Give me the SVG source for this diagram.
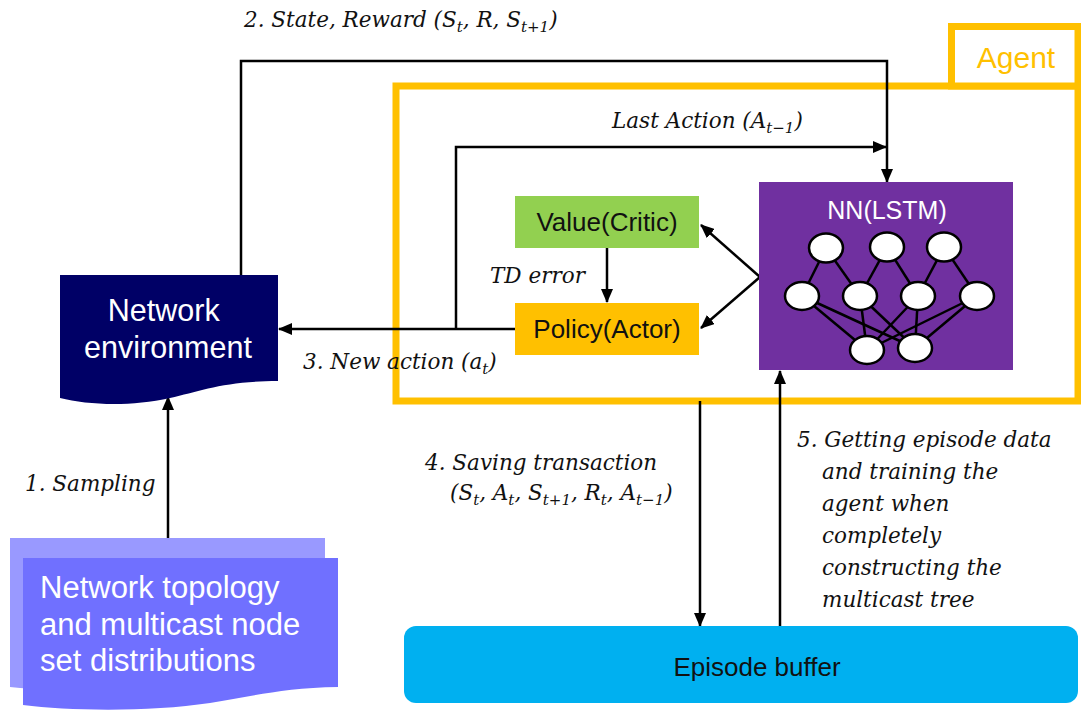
<svg xmlns="http://www.w3.org/2000/svg" width="1081" height="713" viewBox="0 0 1081 713">
  <style>
    .sans { font-family: "Liberation Sans", Arial, sans-serif; }
    .it { font-family: "DejaVu Serif", "Liberation Serif", serif; font-style: italic; font-size: 21.5px; fill: #111; }
    .sub { font-size: 15px; }
    .wire { fill: none; stroke: #000; stroke-width: 2.5; }
    .neuron { fill: #fff; stroke: #000; stroke-width: 2.5; }
    .syn { stroke: #000; stroke-width: 2.5; }
  </style>
  <defs>
    <marker id="arrow" viewBox="0 0 14 12" refX="13" refY="6" markerWidth="14" markerHeight="12" markerUnits="userSpaceOnUse" orient="auto">
      <path d="M0,0 L14,6 L0,12 Z" fill="#000"/>
    </marker>
  </defs>

  <rect width="1081" height="713" fill="#fff"/>

  <!-- Agent container with its tab -->
  <g id="agent">
    <rect x="396" y="86" width="682" height="315" fill="none" stroke="#FFC000" stroke-width="7"/>
    <rect x="951.5" y="26.5" width="126.5" height="59.5" fill="#fff" stroke="#FFC000" stroke-width="7"/>
    <text x="1016" y="68" class="sans" font-size="30" fill="#FFC000" text-anchor="middle">Agent</text>
  </g>

  <!-- Connectors -->
  <g id="connectors">
    <!-- 2. state / reward to NN -->
    <polyline class="wire" points="241,275 241,61 887,61 887,182" marker-end="url(#arrow)"/>
    <!-- 3. new action back to environment -->
    <line class="wire" x1="515" y1="329" x2="279" y2="329" marker-end="url(#arrow)"/>
    <!-- last action feedback to NN -->
    <polyline class="wire" points="456,329 456,147 886,147" marker-end="url(#arrow)"/>
    <!-- TD error -->
    <line class="wire" x1="607" y1="248" x2="607" y2="302" marker-end="url(#arrow)"/>
    <!-- NN to critic / actor -->
    <line class="wire" x1="760" y1="277" x2="701" y2="225" marker-end="url(#arrow)"/>
    <line class="wire" x1="760" y1="277" x2="701" y2="328" marker-end="url(#arrow)"/>
    <!-- 1. sampling -->
    <line class="wire" x1="168" y1="538" x2="168" y2="397" marker-end="url(#arrow)"/>
    <!-- 4. saving transaction -->
    <line class="wire" x1="700" y1="401" x2="700" y2="626" marker-end="url(#arrow)"/>
    <!-- 5. training from episode buffer -->
    <line class="wire" x1="780" y1="626" x2="780" y2="371" marker-end="url(#arrow)"/>
  </g>

  <!-- Connector labels -->
  <g id="labels">
    <text class="it" x="244" y="27" font-size="22.5">2. State, Reward (S<tspan class="sub" dy="5">t</tspan><tspan dy="-5">, R, S</tspan><tspan class="sub" dy="5">t+1</tspan><tspan dy="-5">)</tspan></text>
    <text class="it" x="612" y="128" font-size="22">Last Action (A<tspan class="sub" dy="5">t−1</tspan><tspan dy="-5">)</tspan></text>
    <text class="it" x="490" y="283">TD error</text>
    <text class="it" x="303" y="369">3. New action (a<tspan class="sub" dy="5">t</tspan><tspan dy="-5">)</tspan></text>
    <text class="it" x="25" y="491">1. Sampling</text>
    <text class="it" x="425" y="470">4. Saving transaction</text>
    <text class="it" x="450" y="500">(S<tspan class="sub" dy="5">t</tspan><tspan dy="-5">, A</tspan><tspan class="sub" dy="5">t</tspan><tspan dy="-5">, S</tspan><tspan class="sub" dy="5">t+1</tspan><tspan dy="-5">, R</tspan><tspan class="sub" dy="5">t</tspan><tspan dy="-5">, A</tspan><tspan class="sub" dy="5">t−1</tspan><tspan dy="-5">)</tspan></text>
    <text class="it" x="797" y="447">5. Getting episode data</text>
    <text class="it" x="822" y="479">and training the</text>
    <text class="it" x="822" y="511">agent when</text>
    <text class="it" x="822" y="543">completely</text>
    <text class="it" x="822" y="575">constructing the</text>
    <text class="it" x="822" y="607">multicast tree</text>
  </g>

  <!-- Network environment -->
  <g id="network-environment">
    <path d="M60,275 H278 V381 C225,381 200,391 170,398 C130,407 88,405 60,398 Z" fill="#000066"/>
    <text class="sans" font-size="30.5" fill="#fff" text-anchor="middle">
      <tspan x="168" y="321">Network</tspan>
      <tspan x="168" y="358">environment</tspan>
    </text>
  </g>

  <!-- Network topology / multicast node set distributions -->
  <g id="topology-data">
    <path d="M10,538 H325 V670 C270,671 240,680 200,686 C140,694 60,692 10,687 Z" fill="#9999FF"/>
    <path d="M23,558 H338 V687 C280,688 250,697 210,703 C150,712 70,711 23,705 Z" fill="#7070FF"/>
    <text class="sans" font-size="31" fill="#fff">
      <tspan x="40" y="598">Network topology</tspan>
      <tspan x="40" y="635">and multicast node</tspan>
      <tspan x="40" y="671">set distributions</tspan>
    </text>
  </g>

  <!-- Critic -->
  <g id="critic">
    <rect x="515" y="196" width="184" height="52" fill="#92D050"/>
    <text x="607" y="231" class="sans" font-size="26" fill="#111" text-anchor="middle">Value(Critic)</text>
  </g>

  <!-- Actor -->
  <g id="actor">
    <rect x="515" y="303" width="184" height="52" fill="#FFC000"/>
    <text x="607" y="338" class="sans" font-size="26" fill="#111" text-anchor="middle">Policy(Actor)</text>
  </g>

  <!-- Recurrent network -->
  <g id="nn-lstm">
    <rect x="759" y="182" width="254" height="188" fill="#7030A0"/>
    <text x="887" y="219" class="sans" font-size="25" fill="#fff" text-anchor="middle">NN(LSTM)</text>
    <g>
      <line class="syn" x1="826" y1="248" x2="802" y2="296"/>
      <line class="syn" x1="826" y1="248" x2="860" y2="296"/>
      <line class="syn" x1="887" y1="247" x2="860" y2="296"/>
      <line class="syn" x1="887" y1="247" x2="918" y2="296"/>
      <line class="syn" x1="944" y1="247" x2="918" y2="296"/>
      <line class="syn" x1="944" y1="247" x2="977" y2="296"/>
      <line class="syn" x1="802" y1="296" x2="867" y2="350"/>
      <line class="syn" x1="802" y1="296" x2="915" y2="348"/>
      <line class="syn" x1="860" y1="296" x2="867" y2="350"/>
      <line class="syn" x1="860" y1="296" x2="915" y2="348"/>
      <line class="syn" x1="918" y1="296" x2="867" y2="350"/>
      <line class="syn" x1="918" y1="296" x2="915" y2="348"/>
      <line class="syn" x1="977" y1="296" x2="867" y2="350"/>
      <line class="syn" x1="977" y1="296" x2="915" y2="348"/>
    </g>
    <g>
      <ellipse class="neuron" cx="826" cy="248" rx="17" ry="14.5"/>
      <ellipse class="neuron" cx="887" cy="247" rx="17" ry="14.5"/>
      <ellipse class="neuron" cx="944" cy="247" rx="17" ry="14.5"/>
      <ellipse class="neuron" cx="802" cy="296" rx="17" ry="14"/>
      <ellipse class="neuron" cx="860" cy="296" rx="17" ry="14"/>
      <ellipse class="neuron" cx="918" cy="296" rx="17" ry="14"/>
      <ellipse class="neuron" cx="977" cy="296" rx="17" ry="14"/>
      <ellipse class="neuron" cx="867" cy="350" rx="17" ry="14"/>
      <ellipse class="neuron" cx="915" cy="348" rx="17" ry="14"/>
    </g>
  </g>

  <!-- Episode buffer -->
  <g id="episode-buffer">
    <rect x="404" y="626" width="674" height="77" rx="12" ry="12" fill="#00B0F0"/>
    <text x="757" y="676" class="sans" font-size="26" fill="#111" text-anchor="middle">Episode buffer</text>
  </g>
</svg>
